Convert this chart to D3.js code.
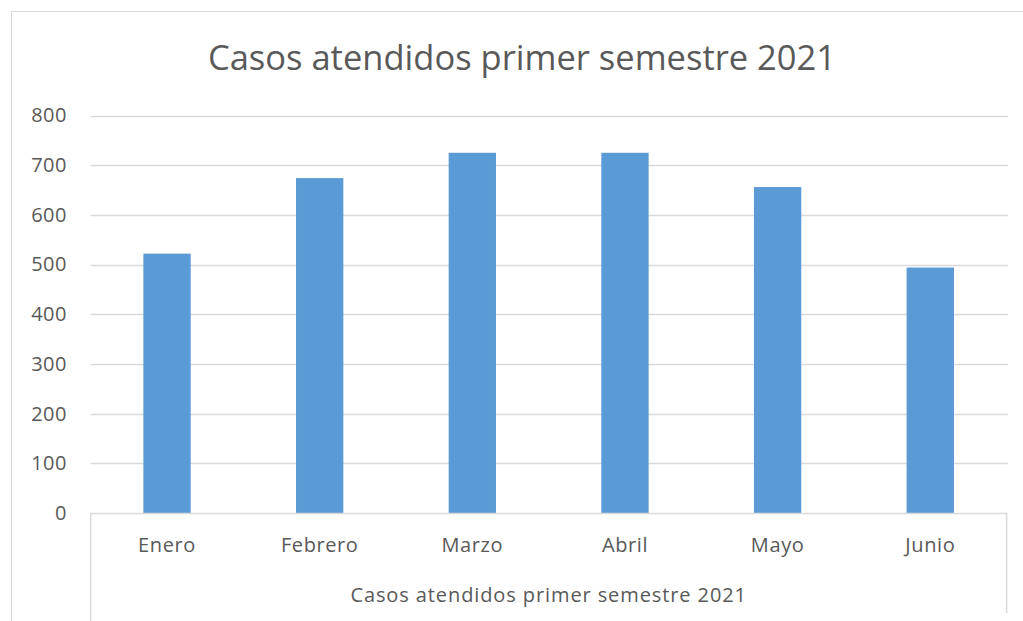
<!DOCTYPE html>
<html>
<head>
<meta charset="utf-8">
<script src="https://cdn.jsdelivr.net/npm/d3@7"></script>
<style>
  body { margin: 0; background: #fff; }
  text { font-family: "Open Sans", sans-serif; fill: #595959; }
</style>
</head>
<body>
<svg id="chart"></svg>
<script>
var months = ["Enero", "Febrero", "Marzo", "Abril", "Mayo", "Junio"];
var casos = [522, 674, 725, 725, 656, 494];
var yTicks = [0, 100, 200, 300, 400, 500, 600, 700, 800];
var titulo = "Casos atendidos primer semestre 2021";
var grupo = "Casos atendidos primer semestre 2021";

var width = 1023;
var height = 621;

var svg = d3.select("#chart")
    .attr("width", width)
    .attr("height", height);

// chart frame (runs off the right/bottom edge like the screenshot)
svg.append("rect")
    .attr("x", 11.5)
    .attr("y", 11.5)
    .attr("width", 1040)
    .attr("height", 700)
    .attr("fill", "#fff")
    .attr("stroke", "#d9d9d9");

var x = d3.scaleBand()
    .domain(months)
    .range([90.7, 1006.6])
    .paddingInner(0.69)
    .paddingOuter(0.345);

var y = d3.scaleLinear()
    .domain([0, 800])
    .range([513, 115.5]);

// gridlines
svg.append("g")
    .selectAll("line")
    .data(yTicks.filter(function(d) { return d > 0; }))
    .enter().append("line")
      .attr("x1", 90.7)
      .attr("x2", 1008)
      .attr("y1", function(d) { return Math.round(y(d)) + 0.5; })
      .attr("y2", function(d) { return Math.round(y(d)) + 0.5; })
      .attr("stroke", "#d9d9d9")
      .attr("stroke-width", 1.5);

// y axis labels
var yAxis = d3.axisLeft(y)
    .tickValues(yTicks)
    .tickSize(0)
    .tickPadding(0);

var yg = svg.append("g")
    .attr("transform", "translate(67,0)")
    .call(yAxis);
yg.select(".domain").remove();
yg.selectAll("text")
    .style("font-size", "20px")
    .style("letter-spacing", "0.5px")
    .attr("fill", "#595959");

// bars
svg.append("g")
    .selectAll("rect")
    .data(casos)
    .enter().append("rect")
      .attr("x", function(d, i) { return x(months[i]); })
      .attr("y", function(d) { return y(d); })
      .attr("width", x.bandwidth())
      .attr("height", function(d) { return y(0) - y(d); })
      .attr("fill", "#5b9bd5");

// category axis box (baseline + outer verticals)
var x0 = 90.7, x1 = 1006.6;
svg.append("line")
    .attr("x1", x0).attr("x2", x1)
    .attr("y1", 513.5).attr("y2", 513.5)
    .attr("stroke", "#d9d9d9").attr("stroke-width", 1.5);
svg.append("line")
    .attr("x1", x0).attr("x2", x0)
    .attr("y1", 513).attr("y2", 621)
    .attr("stroke", "#d9d9d9").attr("stroke-width", 1.5);
svg.append("line")
    .attr("x1", x1).attr("x2", x1)
    .attr("y1", 513).attr("y2", 613)
    .attr("stroke", "#d9d9d9").attr("stroke-width", 1.5);

var xAxis = d3.axisBottom(x).tickSize(0).tickPadding(0);
var xg = svg.append("g")
    .attr("transform", "translate(0,538)")
    .call(xAxis);
xg.select(".domain").remove();
xg.selectAll("text")
    .style("font-size", "20px")
    .style("letter-spacing", "0.6px")
    .attr("fill", "#595959");

// group label under the months
svg.append("text")
    .attr("x", (x0 + x1) / 2)
    .attr("y", 602)
    .attr("text-anchor", "middle")
    .style("font-size", "20px")
    .style("letter-spacing", "0.9px")
    .text(grupo);

// title
svg.append("text")
    .attr("x", 522)
    .attr("y", 70)
    .attr("text-anchor", "middle")
    .style("font-size", "34.5px")
    .text(titulo);
</script>
</body>
</html>
